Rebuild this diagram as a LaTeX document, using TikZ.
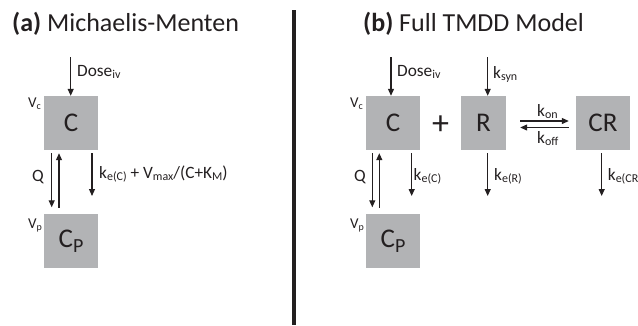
\documentclass[tikz,border=0pt]{standalone}
\usepackage{fontspec}
\setmainfont{Carlito}
\usetikzlibrary{arrows.meta}
\definecolor{ink}{RGB}{35,31,32}
\definecolor{boxgray}{RGB}{178,179,181}
\newcommand{\lsub}[1]{\raisebox{-0.35ex}{\fontsize{12}{12}\selectfont #1}}
\newcommand{\bsub}[1]{\raisebox{-0.4ex}{\fontsize{20}{20}\selectfont #1}}
\newcommand{\vsub}[1]{\raisebox{-0.35ex}{\fontsize{10}{10}\selectfont #1}}
\tikzset{
  comp/.style={fill=boxgray, minimum width=54pt, minimum height=54pt, inner sep=0pt,
    text=ink, font=\fontsize{27}{27}\selectfont},
  flow/.style={-{Triangle[length=7pt,width=6pt]}, line width=1.1pt, draw=ink},
  lbl/.style={anchor=base west, inner sep=0pt, text=ink, font=\fontsize{17.3}{19}\selectfont},
  vol/.style={anchor=base west, inner sep=0pt, text=ink, font=\fontsize{15}{17}\selectfont},
  heading/.style={anchor=base west, inner sep=0pt, text=ink, font=\fontsize{26}{28}\selectfont},
}
\begin{document}
\begin{tikzpicture}[x=1pt,y=-1pt]
\useasboundingbox (0,0) rectangle (638,325);

% divider between the two panels
\draw[line width=4pt, draw=ink] (293.5,10) -- (293.5,325);

% ---------- (a) Michaelis-Menten ----------
\node[heading] (ta) at (12,31) {\textbf{(a)} Michaelis-Menten};
\node[comp] (Ca) at (71,123) {C};
\node[comp] (Cpa) at (71,241) {C\bsub{P}};
\node[vol] (Vca) at (28,107) {V\vsub{c}};
\node[vol] (Vpa) at (28,228) {V\vsub{p}};

\coordinate (da) at (70.7,57);
\draw[flow] (da) -- (da |- Ca.north);
\node[lbl] (doa) at (77,76) {Dose\lsub{iv}};

\draw[flow, shorten <=3pt, shorten >=6.5pt] ([xshift=-19.3pt]Ca.south) -- ([xshift=-19.3pt]Cpa.north);
\draw[flow, shorten <=6pt, shorten >=3pt] ([xshift=-12pt]Cpa.north) -- ([xshift=-12pt]Ca.south);
\node[lbl, anchor=base east] (Qa) at (44,181) {Q};

\coordinate (kea) at (92,196);
\draw[flow, shorten <=3pt] (Ca.south -| kea) -- (kea);
\node[lbl] (kla) at (99,178) {k\lsub{e(C)} + V\lsub{max}/(C+K\lsub{M})};

% ---------- (b) Full TMDD model ----------
\node[heading] (tb) at (363,31) {\textbf{(b)} Full TMDD Model};
\node[comp] (Cb) at (393,123) {C};
\node[comp] (Cpb) at (393,241) {C\bsub{P}};
\node[comp, minimum width=45pt] (Rb) at (483.5,123) {R};
\node[comp] (CRb) at (603,123) {CR};
\node[text=ink, font=\fontsize{34}{34}\selectfont, inner sep=0pt] (plus) at (440.5,125.5) {+};
\node[vol] (Vcb) at (350,107) {V\vsub{c}};
\node[vol] (Vpb) at (350,228) {V\vsub{p}};

\coordinate (db) at (391,57);
\draw[flow] (db) -- (db |- Cb.north);
\node[lbl] (dob) at (397,76) {Dose\lsub{iv}};

\coordinate (sy) at (487.7,57);
\draw[flow] (sy) -- (sy |- Rb.north);
\node[lbl] (syl) at (493,78) {k\lsub{syn}};

\draw[flow, shorten <=3pt, shorten >=6.5pt] ([xshift=-20.7pt]Cb.south) -- ([xshift=-20.7pt]Cpb.north);
\draw[flow, shorten <=6pt, shorten >=3pt] ([xshift=-13.7pt]Cpb.north) -- ([xshift=-13.7pt]Cb.south);
\node[lbl, anchor=base east] (Qb) at (366,181) {Q};

\coordinate (keb) at (411.7,196);
\draw[flow, shorten <=3pt] (Cb.south -| keb) -- (keb);
\node[lbl] (klb) at (413.5,180) {k\lsub{e(C)}};

\coordinate (ker) at (487.7,196);
\draw[flow, shorten <=3pt] (Rb.south -| ker) -- (ker);
\node[lbl] (klr) at (494,180) {k\lsub{e(R)}};

\coordinate (kecr) at (601.7,196);
\draw[flow, shorten <=3pt] (CRb.south -| kecr) -- (kecr);
\node[lbl] (klcr) at (607.7,180) {k\lsub{e(CR)}};

% binding and dissociation
\draw[flow, shorten <=14pt, shorten >=7pt] ([yshift=2pt]Rb.east) -- ([yshift=2pt]CRb.west);
\draw[flow, shorten <=7pt, shorten >=14pt] ([yshift=-4.5pt]CRb.west) -- ([yshift=-4.5pt]Rb.east);
\node[lbl] (kon) at (537,116) {k\lsub{on}};
\node[lbl] (koff) at (537,143) {k\lsub{off}};
\end{tikzpicture}
\end{document}
